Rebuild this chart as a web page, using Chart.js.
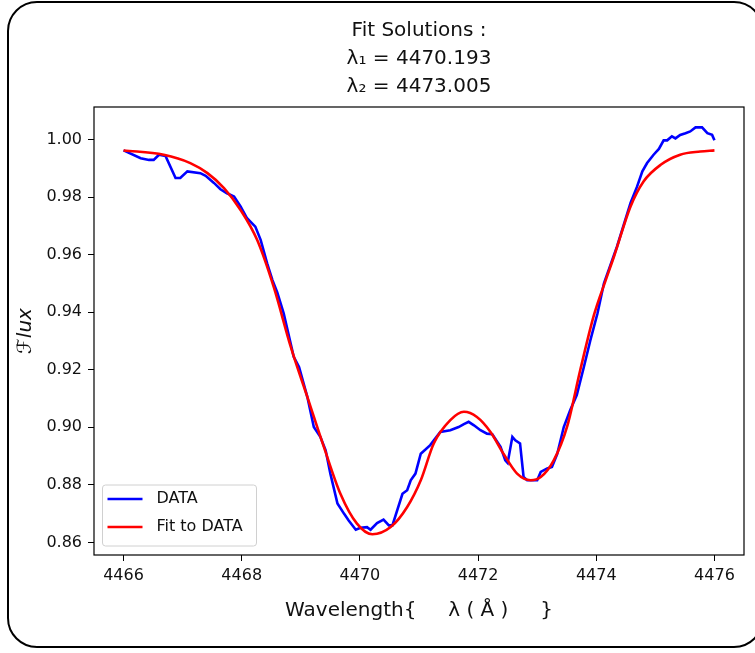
<!DOCTYPE html>
<html>
<head>
<meta charset="utf-8">
<script src="https://cdn.jsdelivr.net/npm/chart.js@4"></script>
<style>
  body { margin: 0; background: #fff; }
  #wrap { position: relative; width: 755px; height: 653px; overflow: hidden; }
  #grafico { display: block; }
  #frame {
    position: absolute; left: 7px; top: 1px; width: 757px; height: 647px;
    box-sizing: border-box; border: 2px solid #000; border-radius: 30px;
    pointer-events: none;
  }
</style>
</head>
<body>
<div id="wrap">
  <canvas id="grafico" width="755" height="653"></canvas>
  <div id="frame"></div>
</div>
<script>
// observed spectrum
const dataWavelength = [
  4466.00, 4466.29, 4466.43, 4466.51, 4466.60, 4466.71, 4466.88, 4466.96, 4467.08, 4467.30,
  4467.39, 4467.53, 4467.64, 4467.75, 4467.87, 4467.98, 4468.09, 4468.23, 4468.32, 4468.43,
  4468.52, 4468.60, 4468.71, 4468.88, 4468.97, 4469.11, 4469.22, 4469.33, 4469.42, 4469.50,
  4469.62, 4469.73, 4469.81, 4469.93, 4470.01, 4470.12, 4470.18, 4470.29, 4470.40, 4470.49,
  4470.55, 4470.72, 4470.80, 4470.86, 4470.94, 4471.03, 4471.19, 4471.36, 4471.53, 4471.67,
  4471.76, 4471.84, 4471.93, 4472.04, 4472.15, 4472.24, 4472.38, 4472.46, 4472.50, 4472.58,
  4472.63, 4472.71, 4472.77, 4472.83, 4473.00, 4473.06, 4473.17, 4473.25, 4473.34, 4473.45,
  4473.56, 4473.67, 4473.79, 4473.90, 4474.02, 4474.13, 4474.35, 4474.58, 4474.69, 4474.78,
  4474.86, 4474.97, 4475.06, 4475.14, 4475.20, 4475.28, 4475.34, 4475.42, 4475.51, 4475.59,
  4475.68, 4475.79, 4475.88, 4475.96, 4476.00
];
const dataFlux = [
  0.9963, 0.9936, 0.9930, 0.9930, 0.9948, 0.9944, 0.9867, 0.9867, 0.9890, 0.9884,
  0.9875, 0.9850, 0.9828, 0.9814, 0.9803, 0.9768, 0.9727, 0.9698, 0.9652, 0.9570,
  0.9512, 0.9470, 0.9396, 0.9245, 0.9210, 0.9106, 0.9001, 0.8967, 0.8920, 0.8839,
  0.8735, 0.8700, 0.8676, 0.8644, 0.8651, 0.8653, 0.8644, 0.8667, 0.8679, 0.8659,
  0.8659, 0.8769, 0.8781, 0.8816, 0.8839, 0.8908, 0.8938, 0.8984, 0.8990, 0.9001,
  0.9011, 0.9019, 0.9007, 0.8990, 0.8978, 0.8976, 0.8932, 0.8885, 0.8876, 0.8967,
  0.8955, 0.8944, 0.8827, 0.8816, 0.8816, 0.8845, 0.8857, 0.8862, 0.8908, 0.9001,
  0.9060, 0.9112, 0.9210, 0.9303, 0.9396, 0.9501, 0.9628, 0.9780, 0.9837, 0.9890,
  0.9919, 0.9948, 0.9968, 0.9998, 0.9998, 1.0012, 1.0005, 1.0017, 1.0023, 1.0029,
  1.0043, 1.0043, 1.0023, 1.0017, 0.9998
];

// fitted profile
const fitWavelength = [
  4466.00, 4466.68, 4467.13, 4467.42, 4467.70, 4467.98, 4468.26, 4468.54, 4468.83, 4469.11,
  4469.39, 4469.67, 4469.95, 4470.21, 4470.52, 4470.80, 4471.03, 4471.25, 4471.53, 4471.76,
  4471.98, 4472.21, 4472.43, 4472.66, 4472.89, 4473.06, 4473.28, 4473.51, 4473.73, 4473.96,
  4474.16, 4474.30, 4474.58, 4474.80, 4475.09, 4475.42, 4475.76, 4476.00
];
const fitFlux = [
  0.9963, 0.9948, 0.9919, 0.9884, 0.9832, 0.9756, 0.9652, 0.9489, 0.9280, 0.9106,
  0.8932, 0.8769, 0.8665, 0.8628, 0.8653, 0.8723, 0.8816, 0.8944, 0.9025, 0.9054,
  0.9036, 0.8984, 0.8908, 0.8839, 0.8816, 0.8827, 0.8885, 0.9005, 0.9200, 0.9390,
  0.9512, 0.9594, 0.9768, 0.9855, 0.9913, 0.9948, 0.9959, 0.9963
];

const xTicks = [4466, 4468, 4470, 4472, 4474, 4476];
const yTicks = [0.86, 0.88, 0.90, 0.92, 0.94, 0.96, 0.98, 1.00];
const titleLines = ['Fit Solutions :', 'λ₁ = 4470.193', 'λ₂ = 4473.005'];

Chart.defaults.font.family = "'DejaVu Sans', sans-serif";
Chart.defaults.color = '#111';

// axes frame on all four sides
const marco = {
  id: 'marco',
  afterDraw(chart) {
    const { ctx, chartArea: a } = chart;
    ctx.save();
    ctx.strokeStyle = '#000';
    ctx.lineWidth = 1.2;
    ctx.strokeRect(a.left, a.top, a.right - a.left, a.bottom - a.top);
    ctx.restore();
  }
};

// legend in the lower left corner of the plot
const leyenda = {
  id: 'leyenda',
  afterDatasetsDraw(chart) {
    const { ctx, chartArea: a } = chart;
    const x0 = a.left + 8.5, y0 = a.bottom - 70, w = 154, h = 61;
    ctx.save();
    ctx.beginPath();
    ctx.roundRect(x0, y0, w, h, 3);
    ctx.fillStyle = 'rgba(255,255,255,0.8)';
    ctx.fill();
    ctx.strokeStyle = '#d0d0d0';
    ctx.lineWidth = 1;
    ctx.stroke();
    ctx.font = "16px 'DejaVu Sans'";
    ctx.textBaseline = 'middle';
    chart.data.datasets.forEach((ds, i) => {
      const y = y0 + 14 + i * 28;
      ctx.strokeStyle = ds.borderColor;
      ctx.lineWidth = 2.6;
      ctx.beginPath();
      ctx.moveTo(x0 + 5, y);
      ctx.lineTo(x0 + 40, y);
      ctx.stroke();
      ctx.fillStyle = '#111';
      ctx.fillText(ds.label, x0 + 54, y);
    });
    ctx.restore();
  }
};

new Chart(document.getElementById('grafico'), {
  type: 'line',
  data: {
    datasets: [
      {
        label: 'DATA',
        data: dataWavelength.map((x, i) => ({ x, y: dataFlux[i] })),
        borderColor: '#0000ff',
        borderWidth: 2.6,
        pointRadius: 0,
        tension: 0,
        order: 1
      },
      {
        label: 'Fit to DATA',
        data: fitWavelength.map((x, i) => ({ x, y: fitFlux[i] })),
        borderColor: '#ff0000',
        borderWidth: 2.6,
        pointRadius: 0,
        cubicInterpolationMode: 'monotone',
        order: 0
      }
    ]
  },
  options: {
    responsive: false,
    animation: false,
    layout: { padding: { left: 0, right: 11, top: 0, bottom: 0 } },
    plugins: {
      legend: { display: false },
      tooltip: { enabled: false },
      title: {
        display: true,
        fullSize: false,
        color: '#111',
        text: titleLines,
        font: { size: 20, weight: 'normal', lineHeight: 1.4 },
        padding: { top: 17, bottom: 6 }
      }
    },
    scales: {
      x: {
        type: 'linear',
        min: 4465.5,
        max: 4476.5,
        afterBuildTicks: s => { s.ticks = xTicks.map(v => ({ value: v })); },
        afterFit: s => { s.height = 98; },
        border: { display: false },
        grid: { drawOnChartArea: false, color: '#000', tickLength: 6 },
        ticks: { font: { size: 16 }, padding: 5, maxRotation: 0, callback: v => String(v) },
        title: {
          display: true,
          text: 'Wavelength{     λ ( Å )     }',
          font: { size: 20 },
          padding: { top: 0, bottom: 30 }
        }
      },
      y: {
        type: 'linear',
        min: 0.8556,
        max: 1.0114,
        afterBuildTicks: s => { s.ticks = yTicks.map(v => ({ value: v })); },
        afterFit: s => { s.width = 94; },
        border: { display: false },
        grid: { drawOnChartArea: false, color: '#000', tickLength: 6 },
        ticks: { font: { size: 16 }, padding: 6, callback: v => v.toFixed(2) },
        title: {
          display: true,
          text: 'ℱlux',
          font: { size: 20, style: 'italic' },
          padding: { top: 14, bottom: 0 }
        }
      }
    }
  },
  plugins: [marco, leyenda]
});
</script>
</body>
</html>
